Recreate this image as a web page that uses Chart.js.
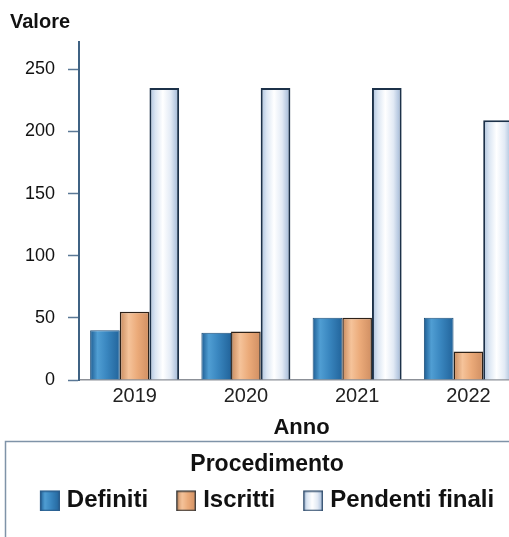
<!DOCTYPE html>
<html>
<head>
<meta charset="utf-8">
<script src="https://cdn.jsdelivr.net/npm/chart.js@4"></script>
<style>
  body { margin: 0; background: #fff; }
  #wrap { width: 509px; height: 537px; overflow: hidden; }
  canvas { display: block; }
</style>
</head>
<body>
<div id="wrap"><canvas id="chart" width="524" height="537"></canvas></div>
<script>
const years = ["2019", "2020", "2021", "2022"];
const definiti = [40, 38, 50, 50];
const iscritti = [55, 39, 50, 23];
const pendenti = [235, 235, 235, 209];
const seriesNames = ["Definiti", "Iscritti", "Pendenti finali"];

// horizontal shading of each bar (cylinder look)
const shadeDef = [[0, "#1d5c92"], [0.25, "#509ed3"], [0.55, "#3a87c0"], [1, "#22649b"]];
const shadeIsc = [[0, "#c78a5e"], [0.3, "#f5c39a"], [0.6, "#ebaa79"], [1, "#cf8e62"]];
const shadePen = [[0, "#a9bfdb"], [0.2, "#dbe6f3"], [0.45, "#ffffff"], [0.72, "#e2eaf5"], [1, "#9bb3d3"]];

Chart.defaults.font.family = "'Liberation Sans', Arial, sans-serif";
Chart.defaults.color = "#111";

function barFill(stops) {
    return function(c) {
        const chart = c.chart;
        const xs = chart.scales.x;
        if (!xs || c.type !== "data") return stops[1][1];
        const group = xs.width / years.length * 0.8;
        const bw = group / 3;
        const left = xs.getPixelForValue(c.dataIndex) - group / 2 + c.datasetIndex * bw;
        const g = chart.ctx.createLinearGradient(left, 0, left + bw, 0);
        stops.forEach(s => g.addColorStop(s[0], s[1]));
        return g;
    };
}

// legend swatch: the square spills past the nominal box width so it sits close to its text
const SW_W = 15;          // pointStyleWidth
const SW_C = SW_W + 10;   // canvas width
function swatch(stops, border) {
    const cv = document.createElement("canvas");
    cv.width = SW_C;
    cv.height = 22;
    const c = cv.getContext("2d");
    const x0 = SW_C - 20;
    const g = c.createLinearGradient(x0, 0, SW_C, 0);
    stops.forEach(s => g.addColorStop(s[0], s[1]));
    c.fillStyle = g;
    c.fillRect(x0, 1, 19, 20);
    c.strokeStyle = border;
    c.lineWidth = 1.5;
    c.strokeRect(x0 + 0.75, 1.75, 18.5, 19.5);
    return cv;
}

const icons = [swatch(shadeDef, "#2a5d8c"), swatch(shadeIsc, "#3a3a3a"), swatch(shadePen, "#34506f")];

const legendFrame = {
    id: "legendFrame",
    afterDraw(chart) {
        const l = chart.legend;
        const ctx = chart.ctx;
        ctx.save();
        ctx.strokeStyle = "#7f93a8";
        ctx.lineWidth = 1.5;
        ctx.strokeRect(5.5, Math.round(l.top) + 0.5, chart.width, 200);
        ctx.restore();
    }
};

const ctx = document.getElementById("chart").getContext("2d");
const chart = new Chart(ctx, {
    type: "bar",
    data: {
        labels: years,
        datasets: [
            {
                label: seriesNames[0],
                data: definiti,
                backgroundColor: barFill(shadeDef),
                borderColor: "#1d4f7a",
                borderWidth: 1
            },
            {
                label: seriesNames[1],
                data: iscritti,
                backgroundColor: barFill(shadeIsc),
                borderColor: "#2e2219",
                borderWidth: 1.5
            },
            {
                label: seriesNames[2],
                data: pendenti,
                backgroundColor: barFill(shadePen),
                borderColor: "#1c3149",
                borderWidth: 2
            }
        ]
    },
    options: {
        responsive: false,
        animation: false,
        layout: {
            padding: { left: 10, right: 0, top: 0, bottom: 14.6 }
        },
        datasets: {
            bar: { categoryPercentage: 0.8, barPercentage: 1.0 }
        },
        scales: {
            x: {
                grid: { display: false, drawTicks: false, tickLength: 0 },
                border: { display: true, color: "#8c9097", width: 1.5 },
                ticks: { font: { size: 20 }, padding: 4, color: "#222" },
                title: {
                    display: true,
                    text: "Anno",
                    font: { size: 22, weight: "bold" },
                    color: "#111",
                    padding: { top: 3, bottom: 0 }
                }
            },
            y: {
                min: 0,
                max: 272,
                afterFit: function(scale) { scale.width = 69; },
                grid: {
                    drawOnChartArea: false,
                    drawTicks: true,
                    tickLength: 11,
                    tickWidth: 1.5,
                    color: "#5b7896"
                },
                border: { display: true, color: "#3f6283", width: 2 },
                ticks: {
                    stepSize: 50,
                    includeBounds: false,
                    padding: 13,
                    font: { size: 18 },
                    color: "#111"
                }
            }
        },
        plugins: {
            title: {
                display: true,
                text: "Valore",
                align: "start",
                font: { size: 20, weight: "bold" },
                color: "#111",
                padding: { top: 10, bottom: 8 }
            },
            legend: {
                display: true,
                position: "bottom",
                title: {
                    display: true,
                    text: "Procedimento",
                    font: { size: 23, weight: "bold" },
                    color: "#111",
                    padding: { top: 12, bottom: -20.6 }
                },
                labels: {
                    usePointStyle: true,
                    pointStyleWidth: SW_W,
                    padding: 28,
                    font: { size: 24, weight: "bold" },
                    color: "#111",
                    generateLabels: function() {
                        return seriesNames.map((name, i) => ({
                            text: name,
                            pointStyle: icons[i],
                            fillStyle: "transparent",
                            strokeStyle: "transparent",
                            lineWidth: 0,
                            hidden: false,
                            datasetIndex: i,
                            fontColor: "#111"
                        }));
                    }
                }
            },
            tooltip: { enabled: false }
        }
    },
    plugins: [legendFrame]
});
</script>
</body>
</html>
